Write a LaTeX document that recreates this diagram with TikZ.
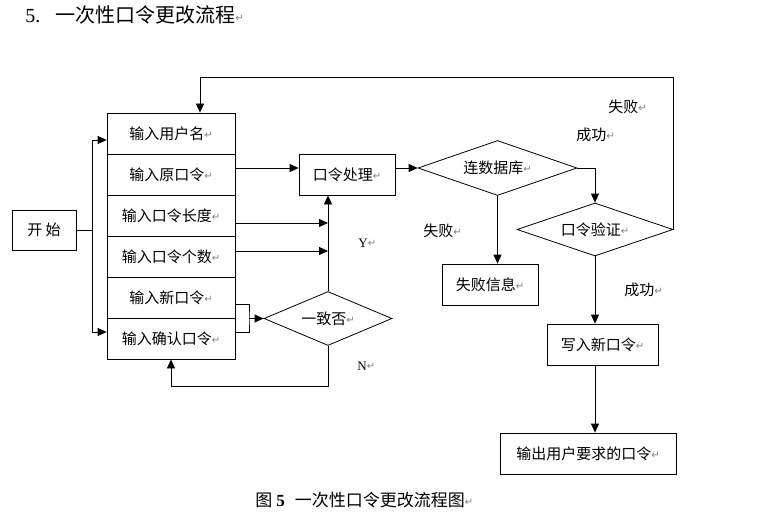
\documentclass[tikz,border=0pt]{standalone}
\usepackage{fontspec}
\setmainfont{Noto Sans CJK SC}
\newfontfamily\latinfont{Liberation Serif}
\newfontfamily\markfont{DejaVu Sans}
\usetikzlibrary{shapes.geometric,arrows.meta}
\newcommand\pmark{{\color{gray}\markfont\fontsize{10}{10}\selectfont\raisebox{1pt}{↵}}}
\tikzstyle{box} = [draw, rectangle, minimum height=41pt, inner sep=0pt, font=\fontsize{15}{15}\selectfont]
\tikzstyle{row} = [box, minimum width=128pt]
\tikzstyle{test} = [draw, diamond, aspect=3, inner sep=0pt, font=\fontsize{15}{15}\selectfont]
\tikzstyle{lab} = [anchor=west, inner sep=0pt, font=\fontsize{15}{15}\selectfont]
\tikzstyle{arr} = [-{Triangle[length=9pt,width=8pt]}]

\begin{document}
\begin{tikzpicture}[x=1pt, y=-1pt, line width=0.8pt]
\useasboundingbox (0,0) rectangle (761,519);
\node[anchor=west, inner sep=0pt, font=\fontsize{20}{20}\selectfont] (title) at (25,15) {{\latinfont 5.}\hspace{15pt}一次性口令更改流程\pmark};
\node[box, minimum width=64pt, minimum height=40pt] (start) at (44,230) {开 始};
\node[row] (r1) at (171,133.5) {输入用户名\pmark};
\node[row] (r2) at (171,174.5) {输入原口令\pmark};
\node[row] (r3) at (171,215.5) {输入口令长度\pmark};
\node[row] (r4) at (171,256.5) {输入口令个数\pmark};
\node[row] (r5) at (171,297.5) {输入新口令\pmark};
\node[row] (r6) at (171,338.5) {输入确认口令\pmark};
\node[box, minimum width=96pt] (chuli) at (347,174.5) {口令处理\pmark};
\node[test, minimum width=159pt, minimum height=55pt] (db) at (497.5,168) {连数据库\pmark};
\node[test, minimum width=156pt, minimum height=53pt] (yan) at (595,229.5) {口令验证\pmark};
\node[test, minimum width=128pt, minimum height=54pt] (yizhi) at (328,318.5) {一致否\pmark};
\node[box, minimum width=96pt] (fail) at (490,284.5) {失败信息\pmark};
\node[box, minimum width=111pt] (write) at (602.5,344.5) {写入新口令\pmark};
\node[box, minimum width=176pt] (out) at (588,453.5) {输出用户要求的口令\pmark};
\node[lab, font=\fontsize{13}{13}\selectfont] (ylab) at (358,243) {\latinfont Y\pmark};
\node[lab, font=\fontsize{13}{13}\selectfont] (nlab) at (357,366) {\latinfont N\pmark};
\node[lab] (fail1) at (608,107) {失败\pmark};
\node[lab] (ok1) at (576,135) {成功\pmark};
\node[lab] (fail2) at (423,231) {失败\pmark};
\node[lab] (ok2) at (624,290) {成功\pmark};
\node[anchor=west, inner sep=0pt, font=\fontsize{17}{17}\selectfont] (caption) at (255,500) {图\hspace{4pt}{\latinfont\bfseries 5}\hspace{10pt}一次性口令更改流程图\pmark};
\coordinate (fork) at (92,230);
\coordinate (merge) at (249,318.5);
\coordinate (nback) at (328,386);
\coordinate (back) at (200,77);
\draw (start.east) -- (fork);
\draw[arr] (fork) |- ([yshift=-6.5pt]r1.west);
\draw[arr] (fork) |- ([yshift=6.5pt]r6.west);
\draw[arr] ([yshift=6.5pt]r2.east) -- ([yshift=6.5pt]chuli.west);
\draw[arr] ([yshift=-7.5pt]r3.east) -- ([yshift=-7.5pt]r3.east -| yizhi.north);
\draw[arr] ([yshift=5.5pt]r4.east) -- ([yshift=5.5pt]r4.east -| yizhi.north);
\draw ([yshift=-6.5pt]r5.east) -| (merge) |- ([yshift=6.5pt]r6.east);
\draw[arr] (merge) -- (yizhi.west);
\draw[arr] (yizhi.north) -- (yizhi.north |- chuli.south);
\draw[arr] (yizhi.south) -- (nback) -| (r6.south);
\draw[arr] ([yshift=6.5pt]chuli.east) -- (db.west);
\draw[arr] (db.east) -| (yan.north);
\draw[arr] (db.south) -- (db.south |- fail.north);
\draw[arr] (yan.east) |- (back) -- ([xshift=29pt]r1.north);
\draw[arr] (yan.south) -- (yan.south |- write.north);
\draw[arr] (yan.south |- write.south) -- (yan.south |- out.north);
\end{tikzpicture}
\end{document}
